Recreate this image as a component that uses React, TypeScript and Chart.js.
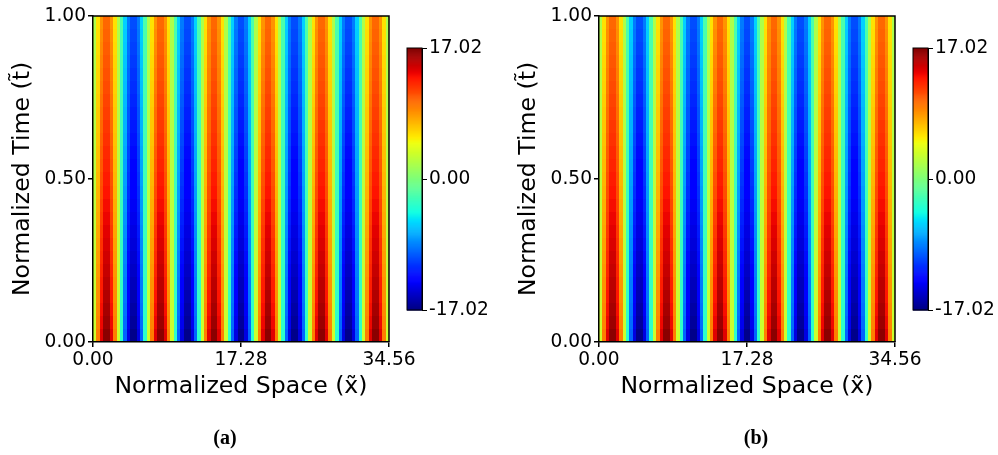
import React, { useEffect, useRef } from "react";
import { Chart, registerables } from "chart.js";

Chart.register(...registerables);

// ---------- data ----------
const xTicks = [0, 17.28, 34.56];
const tTicks = [0, 0.5, 1];
const cbTicks = [-17.02, 0, 17.02];
const X_MIN = 0;
const X_MAX = 34.56;
const T_MIN = 0;
const T_MAX = 1;
const V_MAX = 17.02;

// spatial shape of the field (normalised), one value per column across x
const spaceProfile = [
  0.195, 0.556, 0.831, 0.981, 0.981, 0.831, 0.556, 0.195,
  -0.195, -0.556, -0.831, -0.981, -0.981, -0.831, -0.556, -0.195,
  0.195, 0.556, 0.831, 0.981, 0.981, 0.831, 0.556, 0.195,
  -0.195, -0.556, -0.831, -0.981, -0.981, -0.831, -0.556, -0.195,
  0.195, 0.556, 0.831, 0.981, 0.981, 0.831, 0.556, 0.195,
  -0.195, -0.556, -0.831, -0.981, -0.981, -0.831, -0.556, -0.195,
  0.195, 0.556, 0.831, 0.981, 0.981, 0.831, 0.556, 0.195,
  -0.195, -0.556, -0.831, -0.981, -0.981, -0.831, -0.556, -0.195,
  0.195, 0.556, 0.831, 0.981, 0.981, 0.831, 0.556, 0.195,
  -0.195, -0.556, -0.831, -0.981, -0.981, -0.831, -0.556, -0.195,
  0.195, 0.556, 0.831, 0.981, 0.981, 0.831, 0.556, 0.195,
];

// amplitude of the field per time band (bottom t=0 to top t=1)
const amplitudeA = [
  17.02, 16.52, 16.19, 15.87, 15.56, 15.25, 14.95, 14.65, 14.36, 14.07,
  13.8, 13.52, 13.26, 12.99, 12.74, 12.48, 12.24, 11.99, 11.76, 11.52,
  11.3, 11.07, 10.85, 10.64, 10.43,
];
const amplitudeB = [
  17.02, 16.52, 16.19, 15.87, 15.56, 15.25, 14.95, 14.65, 14.36, 14.07,
  13.8, 13.52, 13.26, 12.99, 12.74, 12.48, 12.24, 11.99, 11.76, 11.52,
  11.3, 11.07, 10.85, 10.64, 10.43,
];

const panelLabels = ["(a)", "(b)"];
const xTitle = "Normalized Space (x\u0303)";
const tTitle = "Normalized Time (t\u0303)";

// ---------- colormap (jet) ----------
function interp(stops: number[][], v: number) {
  if (v <= stops[0][0]) return stops[0][1];
  for (let k = 1; k < stops.length; k++) {
    if (v <= stops[k][0]) {
      const [a0, b0] = stops[k - 1];
      const [a1, b1] = stops[k];
      return b0 + ((b1 - b0) * (v - a0)) / (a1 - a0);
    }
  }
  return stops[stops.length - 1][1];
}
const jetR = [[0, 0], [0.35, 0], [0.66, 1], [0.89, 1], [1, 0.5]];
const jetG = [[0, 0], [0.125, 0], [0.375, 1], [0.64, 1], [0.91, 0], [1, 0]];
const jetB = [[0, 0.5], [0.11, 1], [0.34, 1], [0.65, 0], [1, 0]];
function jet(v: number) {
  const c = Math.max(0, Math.min(1, v));
  const r = Math.round(255 * interp(jetR, c));
  const g = Math.round(255 * interp(jetG, c));
  const b = Math.round(255 * interp(jetB, c));
  return `rgb(${r},${g},${b})`;
}

const FONT = "'DejaVu Sans', sans-serif";
const TICK_SIZE = 18.6;
const TITLE_SIZE = 23.6;

function heatPlugin(amp: number[]) {
  return {
    id: "heat",
    beforeDraw(chart: any) {
      const { ctx, scales } = chart;
      const xs = scales.x;
      const ys = scales.y;
      const nx = spaceProfile.length;
      const nt = amp.length;
      ctx.save();
      for (let j = 0; j < nt; j++) {
        const t0 = T_MIN + ((T_MAX - T_MIN) * j) / nt;
        const t1 = T_MIN + ((T_MAX - T_MIN) * (j + 1)) / nt;
        const py0 = Math.round(ys.getPixelForValue(t1));
        const py1 = Math.round(ys.getPixelForValue(t0));
        for (let i = 0; i < nx; i++) {
          const x0 = X_MIN + ((X_MAX - X_MIN) * i) / nx;
          const x1 = X_MIN + ((X_MAX - X_MIN) * (i + 1)) / nx;
          const px0 = Math.round(xs.getPixelForValue(x0));
          const px1 = Math.round(xs.getPixelForValue(x1));
          const v = amp[j] * spaceProfile[i];
          ctx.fillStyle = jet((v + V_MAX) / (2 * V_MAX));
          ctx.fillRect(px0, py0, px1 - px0, py1 - py0);
        }
      }
      ctx.restore();
    },
    afterDraw(chart: any) {
      const { ctx, chartArea: a } = chart;
      ctx.save();
      ctx.strokeStyle = "#000";
      ctx.lineWidth = 1.5;
      ctx.beginPath();
      ctx.moveTo(a.left, a.top);
      ctx.lineTo(a.right, a.top);
      ctx.lineTo(a.right, a.bottom);
      ctx.stroke();
      ctx.restore();
    },
  };
}

const colorbarPlugin = {
  id: "cbar",
  beforeDraw(chart: any) {
    const { ctx, chartArea: a, scales } = chart;
    const ys = scales.y;
    const n = 256;
    ctx.save();
    for (let k = 0; k < n; k++) {
      const v0 = -V_MAX + (2 * V_MAX * k) / n;
      const v1 = -V_MAX + (2 * V_MAX * (k + 1)) / n;
      const p0 = ys.getPixelForValue(v0);
      const p1 = ys.getPixelForValue(v1);
      ctx.fillStyle = jet((k + 0.5) / n);
      ctx.fillRect(a.left, p1, a.right - a.left, p0 - p1 + 0.6);
    }
    ctx.restore();
  },
  afterDraw(chart: any) {
    const { ctx, chartArea: a } = chart;
    ctx.save();
    ctx.strokeStyle = "#000";
    ctx.lineWidth = 1;
    ctx.strokeRect(a.left, a.top, a.right - a.left, a.bottom - a.top);
    ctx.restore();
  },
};

const fmt2 = (v: any) => Number(v).toFixed(2);

function HeatPanel({ amp, left }: { amp: number[]; left: number }) {
  const ref = useRef<HTMLCanvasElement>(null);
  useEffect(() => {
    if (!ref.current) return;
    const chart = new Chart(ref.current, {
      type: "scatter",
      data: { datasets: [{ data: [] }] },
      options: {
        responsive: false,
        animation: false,
        events: [],
        layout: { padding: { left: 0, top: 16, right: 51, bottom: 53 } },
        plugins: { legend: { display: false }, tooltip: { enabled: false } },
        scales: {
          x: {
            type: "linear",
            position: "bottom",
            min: X_MIN,
            max: X_MAX,
            afterBuildTicks: (s: any) => {
              s.ticks = xTicks.map((v) => ({ value: v }));
            },
            afterFit: (s: any) => {
              s.height = 60;
            },
            ticks: {
              callback: fmt2,
              autoSkip: false,
              maxRotation: 0,
              padding: 2,
              color: "#000",
              font: { family: FONT, size: TICK_SIZE },
            },
            grid: {
              display: true,
              drawOnChartArea: false,
              drawTicks: true,
              tickLength: 5,
              color: "#000",
              lineWidth: 1.5,
            },
            border: { display: true, color: "#000", width: 1.5, z: 1 },
            title: {
              display: true,
              text: xTitle,
              color: "#000",
              font: { family: FONT, size: TITLE_SIZE },
              padding: { top: 0, bottom: 1 },
            },
          },
          y: {
            type: "linear",
            position: "left",
            min: T_MIN,
            max: T_MAX,
            afterBuildTicks: (s: any) => {
              s.ticks = tTicks.map((v) => ({ value: v }));
            },
            afterFit: (s: any) => {
              s.width = 93;
            },
            ticks: {
              callback: fmt2,
              autoSkip: false,
              padding: 2,
              color: "#000",
              font: { family: FONT, size: TICK_SIZE },
            },
            grid: {
              display: true,
              drawOnChartArea: false,
              drawTicks: true,
              tickLength: 5,
              color: "#000",
              lineWidth: 1.5,
            },
            border: { display: true, color: "#000", width: 1.5, z: 1 },
            title: {
              display: true,
              text: tTitle,
              color: "#000",
              font: { family: FONT, size: TITLE_SIZE },
              padding: { top: 9, bottom: 0 },
            },
          },
        },
      },
      plugins: [heatPlugin(amp)],
    } as any);
    return () => chart.destroy();
  }, [amp]);
  return (
    <canvas
      ref={ref}
      width={440}
      height={455}
      style={{ position: "absolute", left, top: 0, width: 440, height: 455 }}
    />
  );
}

function ColorBar({ left, width }: { left: number; width: number }) {
  const ref = useRef<HTMLCanvasElement>(null);
  useEffect(() => {
    if (!ref.current) return;
    const chart = new Chart(ref.current, {
      type: "scatter",
      data: { datasets: [{ data: [] }] },
      options: {
        responsive: false,
        animation: false,
        events: [],
        layout: { padding: { left: 7, top: 48, right: 0, bottom: 145 } },
        plugins: { legend: { display: false }, tooltip: { enabled: false } },
        scales: {
          x: { type: "linear", display: false, min: 0, max: 1 },
          y: {
            type: "linear",
            position: "right",
            min: -V_MAX,
            max: V_MAX,
            afterBuildTicks: (s: any) => {
              s.ticks = cbTicks.map((v) => ({ value: v }));
            },
            afterFit: (s: any) => {
              s.width = width - 7 - 15;
            },
            ticks: {
              callback: fmt2,
              autoSkip: false,
              padding: 2,
              color: "#000",
              font: { family: FONT, size: TICK_SIZE },
            },
            grid: {
              display: true,
              drawOnChartArea: false,
              drawTicks: true,
              tickLength: 5,
              color: "#000",
              lineWidth: 1,
            },
            border: { display: true, color: "#000", width: 1, z: 1 },
          },
        },
      },
      plugins: [colorbarPlugin],
    } as any);
    return () => chart.destroy();
  }, [width]);
  return (
    <canvas
      ref={ref}
      width={width}
      height={455}
      style={{ position: "absolute", left, top: 0, width, height: 455 }}
    />
  );
}

export default function App() {
  const captionStyle = (cx: number): React.CSSProperties => ({
    position: "absolute",
    left: cx - 30,
    top: 424,
    width: 60,
    textAlign: "center",
    fontFamily: "'Liberation Serif', 'Times New Roman', serif",
    fontWeight: "bold",
    fontSize: 20,
    lineHeight: "26px",
    color: "#000",
  });
  return (
    <div
      style={{
        position: "absolute",
        left: 0,
        top: 0,
        width: 998,
        height: 455,
        background: "#fff",
        overflow: "hidden",
      }}
    >
      <HeatPanel amp={amplitudeA} left={0} />
      <ColorBar left={400} width={98} />
      <HeatPanel amp={amplitudeB} left={506} />
      <ColorBar left={906} width={92} />
      <div style={captionStyle(225)}>{panelLabels[0]}</div>
      <div style={captionStyle(756)}>{panelLabels[1]}</div>
    </div>
  );
}
